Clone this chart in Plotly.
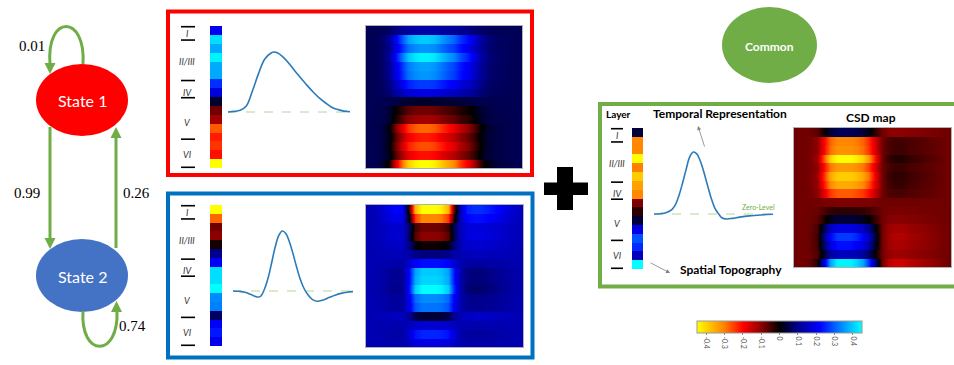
import plotly.graph_objects as go

W, H = 954, 365

# ---------------- data ----------------
layer_names = ["I", "II/III", "IV", "V", "VI"]
state_names = ["State 1", "State 2"]
common_name = "Common"
trans_probs = [0.01, 0.99, 0.26, 0.74]   # 1->1, 1->2, 2->1, 2->2
cbar_ticks = [-0.4, -0.3, -0.2, -0.1, 0, 0.1, 0.2, 0.3, 0.4]
cbar_labels = ["-0.4", "-0.3", "-0.2", "-0.1", "0", "0.1", "0.2", "0.3", "0.4"]

# spatial topography columns (16 depth cells, top to bottom)
state1_spatial = [0.20, 0.42, 0.37, 0.44, 0.37, 0.37, 0.26, 0.18, 0.03, -0.08, -0.12, -0.27, -0.22, -0.24, -0.21, -0.45]
state2_spatial = [-0.45, -0.28, -0.08, -0.10, -0.015, 0.10, 0.21, 0.42, 0.42, 0.45, 0.34, 0.33, 0.07, 0.21, 0.24, 0.20]
common_spatial = [0.04, -0.31, -0.31, -0.45, -0.30, -0.39, -0.34, -0.31, -0.09, -0.03, 0.04, 0.19, 0.29, 0.255, 0.15, 0.45]

# temporal representation curves (normalised time, normalised amplitude)
state1_t = [0, .05, .1, .15, .2, .25, .3, .35, .38, .4, .45, .5, .55, .6, .65, .7, .75, .8, .85, .9, .95, 1]
state1_v = [0, .01, .03, .1, .35, .64, .88, .98, 1.0, .99, .92, .81, .68, .56, .44, .33, .23, .15, .08, .04, .015, .005]
state2_t = [0, .05, .1, .15, .2, .23, .26, .29, .32, .35, .38, .41, .44, .47, .5, .53, .56, .59, .62, .66, .7, .75, .8, .85, .9, .95, 1]
state2_v = [0, -.005, -.02, -.06, -.1, -.09, .02, .2, .45, .72, .92, 1.0, .96, .82, .62, .4, .2, .05, -.05, -.14, -.17, -.15, -.11, -.07, -.04, -.02, -.01]
common_t = [0, .05, .1, .15, .18, .21, .24, .27, .3, .33, .36, .39, .42, .45, .48, .51, .54, .57, .61, .66, .72, .8, .9, 1]
common_v = [0, .005, .02, .07, .15, .3, .5, .72, .92, 1.0, .97, .85, .67, .46, .26, .1, .01, -.06, -.08, -.07, -.05, -.03, -.015, -.005]

# CSD maps: value of each depth row at the peak, background level, temporal weight of each column
state1_map_peak = [0.13, 0.40, 0.35, 0.44, 0.36, 0.35, 0.27, 0.19, 0.03, -0.08, -0.12, -0.28, -0.22, -0.26, -0.21, -0.45]
state1_map_bg = 0.06
state1_map_w = [0, .01, .04, .15, .42, .68, .88, .97, 1.0, 1.0, .97, .88, .8, .72, .6, .5, .38, .2, .1, .05, .03, .02, .01, 0]
state2_map_peak = [-0.45, -0.31, -0.08, -0.10, -0.01, 0.09, 0.23, 0.40, 0.41, 0.45, 0.34, 0.32, 0.04, 0.17, 0.25, 0.19]
state2_map_bg = 0.14
state2_map_w = [0, -.02, -.05, -.1, -.13, -.12, .3, .85, 1.0, 1.0, 1.0, .97, .85, .35, -.05, -.18, -.2, -.2, -.18, -.15, -.12, -.08, -.05, -.02]
common_map_peak = [0.06, -0.31, -0.32, -0.45, -0.33, -0.39, -0.35, -0.27, -0.09, -0.03, 0.04, 0.19, 0.27, 0.23, 0.15, 0.44]
common_map_bg = -0.08
common_map_w = [0, 0, .02, .1, .45, .85, 1.0, 1.0, 1.0, .95, .85, .65, .3, 0, -.12, -.15, -.15, -.12, -.1, -.08, -.06, -.04, -.02, 0]

# ---------------- styling ----------------
cs_vals = [-0.45, -0.3, -0.2, -0.1, 0, 0.1, 0.22, 0.33, 0.45]
cs_cols = ["rgb(255,255,0)", "rgb(255,128,0)", "rgb(255,0,0)", "rgb(140,0,0)", "rgb(0,0,0)",
           "rgb(0,0,140)", "rgb(0,0,255)", "rgb(0,128,255)", "rgb(0,255,255)"]
ZMIN, ZMAX = -0.45, 0.45
colorscale = [[(v - ZMIN) / (ZMAX - ZMIN), c] for v, c in zip(cs_vals, cs_cols)]

GREEN = "#70AD47"
SANS = "Lato, 'Open Sans', sans-serif"
SERIF = "'Liberation Serif', 'DejaVu Serif', serif"
CURVE = "#2B7BBA"
ROW_REP = 10   # sub-rows per depth row so smoothing stays horizontal only


def xdom(a, b):
    return [a / W, b / W]


def ydom(top, bot):
    return [1 - bot / H, 1 - top / H]


panels = [
    dict(spatial=state1_spatial, peak=state1_map_peak, bg=state1_map_bg, w=state1_map_w,
         t=state1_t, v=state1_v, col=(210, 222, 26, 168), map=(366, 522, 26, 168),
         curve=(228, 350, 112, 60), tick_x=(181, 195), label_x=187),
    dict(spatial=state2_spatial, peak=state2_map_peak, bg=state2_map_bg, w=state2_map_w,
         t=state2_t, v=state2_v, col=(210, 222, 205, 346), map=(366, 523, 205, 347),
         curve=(233, 353, 291, 60), tick_x=(181, 195), label_x=187),
    dict(spatial=common_spatial, peak=common_map_peak, bg=common_map_bg, w=common_map_w,
         t=common_t, v=common_v, col=(632, 643, 128, 269), map=(794, 951, 128, 267),
         curve=(654, 773, 214, 62), tick_x=(611, 623), label_x=617),
]
line_fracs = [0.005, 0.099, 0.384, 0.505, 0.797, 0.995]
label_fracs = [0.054, 0.252, 0.465, 0.677, 0.903]

fig = go.Figure()
layout = dict(
    width=W, height=H, margin=dict(l=0, r=0, t=0, b=0),
    paper_bgcolor="white", plot_bgcolor="rgba(0,0,0,0)", showlegend=False,
    xaxis=dict(domain=[0, 1], range=[0, W], visible=False, fixedrange=True),
    yaxis=dict(domain=[0, 1], range=[H, 0], visible=False, fixedrange=True),
)
fig.add_trace(go.Scatter(x=[], y=[], xaxis="x", yaxis="y", hoverinfo="skip"))

shapes = []
annotations = []
ax_n = 2
for pi, p in enumerate(panels):
    # spatial column
    x0, x1, top, bot = p["col"]
    n = ax_n
    layout[f"xaxis{n}"] = dict(domain=xdom(x0, x1), range=[-0.5, 0.5], visible=False, anchor=f"y{n}", fixedrange=True)
    layout[f"yaxis{n}"] = dict(domain=ydom(top, bot), range=[len(p["spatial"]) - 0.5, -0.5], visible=False, anchor=f"x{n}", fixedrange=True)
    fig.add_trace(go.Heatmap(z=[[s] for s in p["spatial"]], x=[0], y=list(range(len(p["spatial"]))),
                             colorscale=colorscale, zmin=ZMIN, zmax=ZMAX, showscale=False,
                             xaxis=f"x{n}", yaxis=f"y{n}"))
    # layer ticks and labels
    hgt = bot - top
    for f in line_fracs:
        yy = top + f * hgt
        shapes.append(dict(type="line", xref="x", yref="y", x0=p["tick_x"][0], x1=p["tick_x"][1],
                           y0=yy, y1=yy, line=dict(color="black", width=1.6)))
    for name, f in zip(layer_names, label_fracs):
        annotations.append(dict(x=p["label_x"], y=top + f * hgt, xref="x", yref="y", text=f"<i>{name}</i>",
                                showarrow=False, font=dict(family=SANS, size=9, color="#333333")))
    ax_n += 1

    # CSD map
    x0, x1, top, bot = p["map"]
    n = ax_n
    nrow, ncol = len(p["peak"]), len(p["w"])
    z, ys = [], []
    for i, pk in enumerate(p["peak"]):
        row = [p["bg"] + (pk - p["bg"]) * wj for wj in p["w"]]
        for k in range(ROW_REP):
            z.append(row)
            ys.append(i - 0.5 + (k + 0.5) / ROW_REP)
    layout[f"xaxis{n}"] = dict(domain=xdom(x0, x1), range=[-0.5, ncol - 0.5], anchor=f"y{n}",
                               showline=True, mirror=True, linecolor="#b0b0b0", linewidth=1,
                               showgrid=False, zeroline=False, showticklabels=False, ticks="", fixedrange=True)
    layout[f"yaxis{n}"] = dict(domain=ydom(top, bot), range=[nrow - 0.5, -0.5], anchor=f"x{n}",
                               showline=True, mirror=True, linecolor="#b0b0b0", linewidth=1,
                               showgrid=False, zeroline=False, showticklabels=False, ticks="", fixedrange=True)
    hm = dict(z=z, x=list(range(ncol)), y=ys, zsmooth="best",
              colorscale=colorscale, zmin=ZMIN, zmax=ZMAX, xaxis=f"x{n}", yaxis=f"y{n}")
    if pi == 2:
        hm.update(showscale=True, colorbar=dict(
            orientation="h", x=697 / W, xanchor="left", y=1 - 321 / H, yanchor="top",
            len=165, lenmode="pixels", thickness=12, thicknessmode="pixels", xpad=0, ypad=0,
            tickvals=cbar_ticks, ticktext=cbar_labels, tickangle=90, ticks="outside", ticklen=2,
            tickcolor="#888", tickfont=dict(family=SANS, size=7, color="#555"),
            outlinecolor="#999", outlinewidth=1))
    else:
        hm.update(showscale=False)
    fig.add_trace(go.Heatmap(**hm))
    ax_n += 1

    # temporal curve
    x0, x1, base, amp = p["curve"]
    n = ax_n
    ptop, pbot = base - amp * 1.2, base + amp * 0.35
    layout[f"xaxis{n}"] = dict(domain=xdom(x0, x1), range=[0, 1], visible=False, anchor=f"y{n}", fixedrange=True)
    layout[f"yaxis{n}"] = dict(domain=ydom(ptop, pbot), range=[(base - pbot) / amp, (base - ptop) / amp],
                               visible=False, anchor=f"x{n}", fixedrange=True)
    fig.add_trace(go.Scatter(x=[0, 1], y=[0, 0], mode="lines", xaxis=f"x{n}", yaxis=f"y{n}",
                             line=dict(color="#A9D18E", width=0.9, dash="dash"), hoverinfo="skip"))
    fig.add_trace(go.Scatter(x=p["t"], y=p["v"], mode="lines", line_shape="spline", xaxis=f"x{n}", yaxis=f"y{n}",
                             line=dict(color=CURVE, width=1.6), hoverinfo="skip"))
    ax_n += 1

# ---------------- decorations ----------------
shapes += [
    dict(type="rect", xref="x", yref="y", x0=168, x1=532, y0=11.5, y1=175, line=dict(color="#FF0000", width=4)),
    dict(type="rect", xref="x", yref="y", x0=168, x1=532.5, y0=193.5, y1=357.5, line=dict(color="#0070C0", width=4)),
    dict(type="rect", xref="x", yref="y", x0=600, x1=962, y0=104, y1=286.5, line=dict(color=GREEN, width=4)),
]
shapes += [
    dict(type="rect", xref="x", yref="y", x0=557, x1=573, y0=167, y1=210, fillcolor="black", line=dict(width=0)),
    dict(type="rect", xref="x", yref="y", x0=544, x1=588, y0=182.5, y1=195, fillcolor="black", line=dict(width=0)),
]
shapes += [
    dict(type="circle", xref="x", yref="y", x0=36, x1=128, y0=64, y1=136, fillcolor="#FF0000", line=dict(width=0)),
    dict(type="circle", xref="x", yref="y", x0=36, x1=128, y0=239, y1=312, fillcolor="#4472C4", line=dict(width=0)),
    dict(type="circle", xref="x", yref="y", x0=722, x1=817, y0=7, y1=83, fillcolor=GREEN, line=dict(width=0)),
]
arrow_line = dict(color=GREEN, width=3)
shapes += [
    dict(type="path", xref="x", yref="y", path="M 83 64 C 86 14, 46 14, 50 64", line=arrow_line),
    dict(type="path", xref="x", yref="y", path="M 44.5 63 L 55.5 63 L 50 74 Z", fillcolor=GREEN, line=dict(width=0)),
    dict(type="line", xref="x", yref="y", x0=50, x1=50, y0=127, y1=240, line=arrow_line),
    dict(type="path", xref="x", yref="y", path="M 44.5 238 L 55.5 238 L 50 249 Z", fillcolor=GREEN, line=dict(width=0)),
    dict(type="line", xref="x", yref="y", x0=116, x1=116, y0=248, y1=136, line=arrow_line),
    dict(type="path", xref="x", yref="y", path="M 110.5 138 L 121.5 138 L 116 127 Z", fillcolor=GREEN, line=dict(width=0)),
    dict(type="path", xref="x", yref="y", path="M 83 311 C 80 358, 119 358, 117 311", line=arrow_line),
    dict(type="path", xref="x", yref="y", path="M 111 312 L 122 312 L 116.5 301 Z", fillcolor=GREEN, line=dict(width=0)),
]

annotations += [
    dict(x=82, y=100, text=state_names[0], font=dict(family=SANS, size=16, color="white")),
    dict(x=82, y=276, text=state_names[1], font=dict(family=SANS, size=16, color="white")),
    dict(x=769, y=46, text=f"<b>{common_name}</b>", font=dict(family=SANS, size=12, color="white")),
    dict(x=32, y=46, text=f"{trans_probs[0]:.2f}", font=dict(family=SERIF, size=15, color="black")),
    dict(x=27, y=193, text=f"{trans_probs[1]:.2f}", font=dict(family=SERIF, size=15, color="black")),
    dict(x=136, y=193, text=f"{trans_probs[2]:.2f}", font=dict(family=SERIF, size=15, color="black")),
    dict(x=132, y=326, text=f"{trans_probs[3]:.2f}", font=dict(family=SERIF, size=15, color="black")),
    dict(x=618, y=114, text="<b>Layer</b>", font=dict(family=SANS, size=10, color="black")),
    dict(x=720, y=113, text="<b>Temporal Representation</b>", font=dict(family=SANS, size=12, color="black")),
    dict(x=731, y=269, text="<b>Spatial Topography</b>", font=dict(family=SANS, size=12, color="black")),
    dict(x=871, y=117, text="<b>CSD map</b>", font=dict(family=SANS, size=12, color="black")),
    dict(x=758, y=207, text="Zero-Level", font=dict(family=SANS, size=7, color=GREEN)),
]
for a in annotations:
    a.setdefault("xref", "x")
    a.setdefault("yref", "y")
    a.setdefault("showarrow", False)

annotations += [
    dict(x=698, y=126, ax=705, ay=148, xref="x", yref="y", axref="x", ayref="y", text="",
         showarrow=True, arrowhead=2, arrowsize=1, arrowwidth=0.8, arrowcolor="#808080"),
    dict(x=670, y=273, ax=649, ay=262, xref="x", yref="y", axref="x", ayref="y", text="",
         showarrow=True, arrowhead=2, arrowsize=1, arrowwidth=0.8, arrowcolor="#808080"),
]

layout["shapes"] = shapes
layout["annotations"] = annotations
fig.update_layout(**layout)
fig.write_html("out.html")
